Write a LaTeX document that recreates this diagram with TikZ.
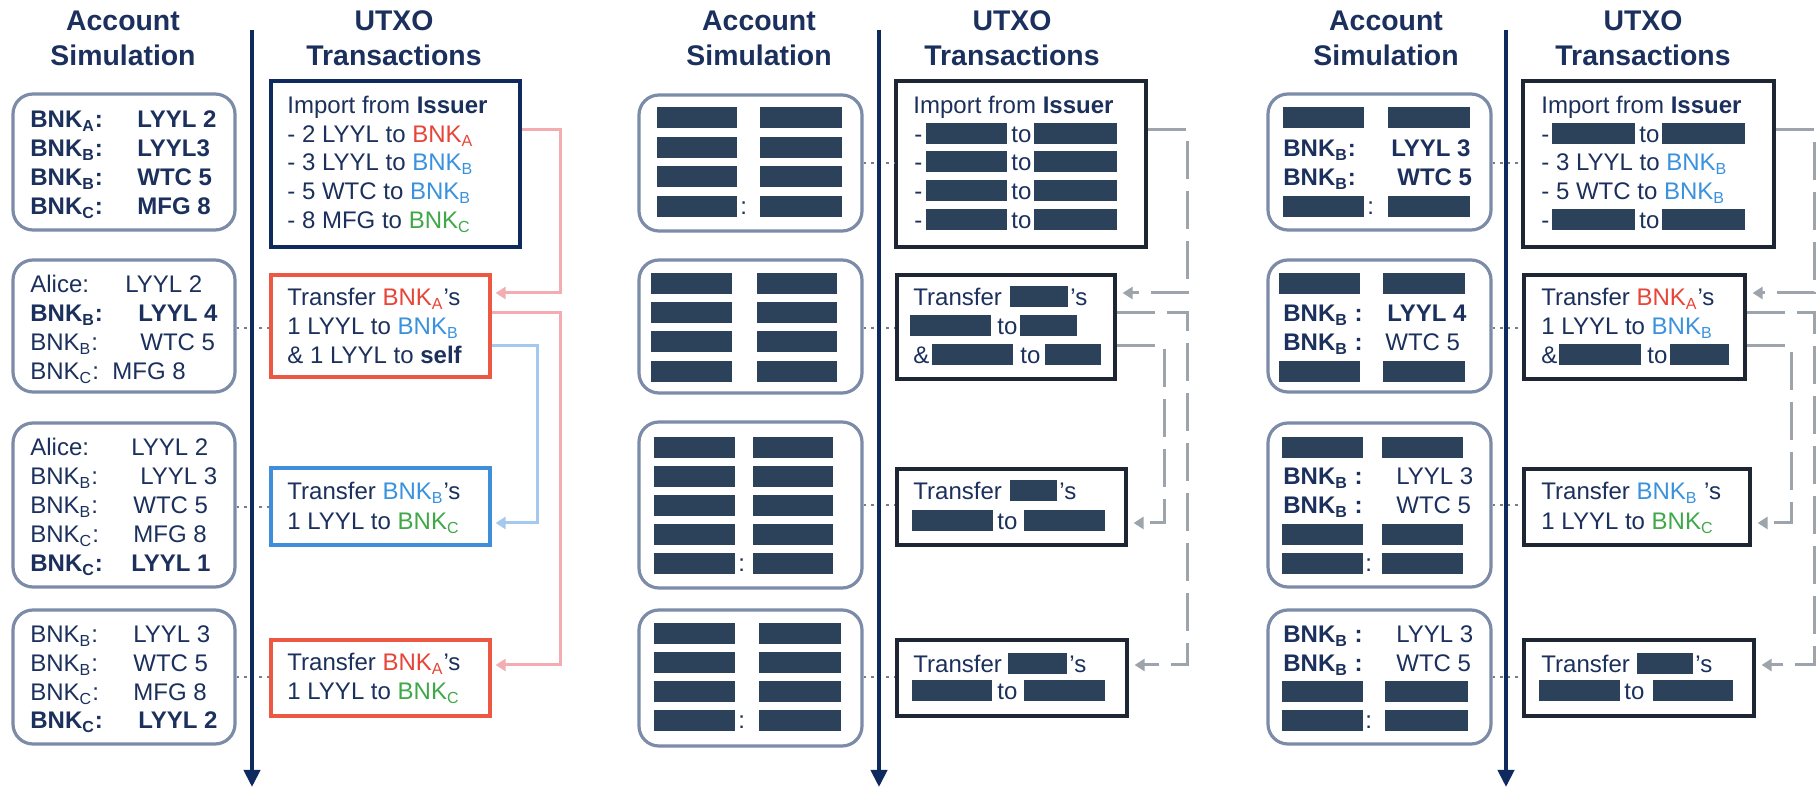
\documentclass[tikz,border=0pt]{standalone}
\usepackage{fontspec}
\setmainfont{Liberation Sans}
\usetikzlibrary{fit,arrows.meta}

\definecolor{ink}{RGB}{27,48,92}
\definecolor{axis}{RGB}{14,42,94}
\definecolor{roundedge}{RGB}{124,139,168}
\definecolor{bnkred}{RGB}{232,68,56}
\definecolor{bnkblue}{RGB}{58,146,222}
\definecolor{bnkgreen}{RGB}{64,168,72}
\definecolor{edgered}{RGB}{236,88,66}
\definecolor{edgeblue}{RGB}{62,142,218}
\definecolor{edgedark}{RGB}{30,38,52}
\definecolor{flowpink}{RGB}{243,172,176}
\definecolor{flowblue}{RGB}{164,201,238}
\definecolor{flowgray}{RGB}{158,164,172}
\definecolor{dotgray}{RGB}{115,125,140}
\definecolor{hidebar}{RGB}{44,66,90}

\newcommand\bnk[1]{BNK\textsubscript{#1}}
\newcommand\redA{\textcolor{bnkred}{\bnk{A}}}
\newcommand\bluB{\textcolor{bnkblue}{\bnk{B}}}
\newcommand\grnC{\textcolor{bnkgreen}{\bnk{C}}}
\newcounter{lbl}
% one line of text: left x, row centre y, contents
\newcommand\tline[3]{\stepcounter{lbl}\node[txt] (lbl\arabic{lbl}) at (#1,{#2+8}) {#3};}
% a blacked-out field: left x, right x, row centre y
\newcommand\hide[3]{\fill[hidebar] (#1,{#3-10.5}) rectangle (#2,{#3+10.5});}

\tikzset{
  txt/.style={anchor=base west, inner sep=0pt, text=ink},
  hdr/.style={align=center, text=ink, font=\fontsize{14.2}{17.5}\selectfont\bfseries},
  acct/.style={draw=roundedge, line width=1.6pt, rounded corners=10pt, inner sep=0pt},
  utxo/.style={draw=#1, line width=1.6pt, inner sep=0pt},
  timeline/.style={draw=axis, line width=2pt, -{Triangle[length=8.5pt,width=8pt]}},
  link/.style={draw=dotgray, line width=1.1pt, dash pattern=on 1.2pt off 2.6pt},
  flow/.style={draw=#1, line width=1.5pt, -{Triangle[length=5pt,width=6pt]}, shorten >=2pt},
  ghost/.style={draw=flowgray, line width=1.5pt, dash pattern=on 19pt off 6pt,
    -{Triangle[length=5pt,width=6pt]}, shorten >=3pt},
}

\begin{document}
\begin{tikzpicture}[x=0.5pt, y=-0.5pt, font=\fontsize{12}{14}\selectfont]
\fill[white] (0,0) rectangle (1816,790);
\useasboundingbox (0,0) rectangle (1816,790);

% ================= first panel: real values =================
\node[hdr] (h1l) at (123,38) {Account\\Simulation};
\node[hdr] (h1r) at (394,38) {UTXO\\Transactions};
\coordinate (ax1top) at (252,30);
\coordinate (ax1end) at (252,787);

\node[acct, fit={(13,94) (235,230)}] (p1s1) {};
\node[acct, fit={(13,260) (235,392)}] (p1s2) {};
\node[acct, fit={(13,423) (235,587)}] (p1s3) {};
\node[acct, fit={(13,610) (235,744)}] (p1s4) {};

\node[utxo=axis, fit={(271,81) (520,247)}] (p1u1) {};
\node[utxo=edgered, fit={(271,275) (490,377)}] (p1u2) {};
\node[utxo=edgeblue, fit={(271,468) (490,545)}] (p1u3) {};
\node[utxo=edgered, fit={(271,640) (490,716)}] (p1u4) {};

% balances
\tline{30}{120}{\textbf{\bnk{A}:}} \tline{137}{120}{\textbf{LYYL 2}}
\tline{30}{149}{\textbf{\bnk{B}:}} \tline{137}{149}{\textbf{LYYL3}}
\tline{30}{178}{\textbf{\bnk{B}:}} \tline{137}{178}{\textbf{WTC 5}}
\tline{30}{207}{\textbf{\bnk{C}:}} \tline{137}{207}{\textbf{MFG 8}}

\tline{30}{285}{Alice:} \tline{125}{285}{LYYL 2}
\tline{30}{314}{\textbf{\bnk{B}:}} \tline{138}{314}{\textbf{LYYL 4}}
\tline{30}{343}{\bnk{B}:} \tline{140}{343}{WTC 5}
\tline{30}{372}{\bnk{C}:} \tline{112}{372}{MFG 8}

\tline{30}{448}{Alice:} \tline{131}{448}{LYYL 2}
\tline{30}{477}{\bnk{B}:} \tline{140}{477}{LYYL 3}
\tline{30}{506}{\bnk{B}:} \tline{133}{506}{WTC 5}
\tline{30}{535}{\bnk{C}:} \tline{133}{535}{MFG 8}
\tline{30}{564}{\textbf{\bnk{C}:}} \tline{131}{564}{\textbf{LYYL 1}}

\tline{30}{635}{\bnk{B}:} \tline{133}{635}{LYYL 3}
\tline{30}{664}{\bnk{B}:} \tline{133}{664}{WTC 5}
\tline{30}{693}{\bnk{C}:} \tline{133}{693}{MFG 8}
\tline{30}{721}{\textbf{\bnk{C}:}} \tline{138}{721}{\textbf{LYYL 2}}

% transactions
\tline{287}{106}{Import from \textbf{Issuer}}
\tline{287}{135}{- 2 LYYL to \redA}
\tline{287}{163}{- 3 LYYL to \bluB}
\tline{287}{192}{- 5 WTC to \bluB}
\tline{287}{221}{- 8 MFG to \grnC}

\tline{287}{298}{Transfer \redA's}
\tline{287}{327}{1 LYYL to \bluB}
\tline{287}{356}{\& 1 LYYL to \textbf{self}}

\tline{287}{492}{Transfer \bluB's}
\tline{287}{522}{1 LYYL to \grnC}

\tline{287}{663}{Transfer \redA's}
\tline{287}{692}{1 LYYL to \grnC}

\draw[flow=flowpink] (p1u1.east |- 0,130) -- (560,130) -- (560,293) -- (p1u2.east |- 0,293);
\draw[flow=flowpink] (p1u2.east |- 0,313) -- (560,313) -- (560,665) -- (p1u4.east |- 0,665);
\draw[flow=flowblue] (p1u2.east |- 0,346) -- (537,346) -- (537,523) -- (p1u3.east |- 0,523);

\draw[link] (p1s2.east |- 0,328) -- (p1u2.west |- 0,328);
\draw[link] (p1s3.east |- 0,507) -- (p1u3.west |- 0,507);
\draw[link] (p1s4.east |- 0,677) -- (p1u4.west |- 0,677);
\draw[timeline] (ax1top) -- (ax1end);

% ================= second panel: everything hidden =================
\begin{scope}[xshift=313.5pt]
\node[hdr] (h2l) at (132,38) {Account\\Simulation};
\node[hdr] (h2r) at (385,38) {UTXO\\Transactions};
\coordinate (ax2top) at (252,30);
\coordinate (ax2end) at (252,787);

\node[acct, fit={(12,95) (235,231)}] (p2s1) {};
\node[acct, fit={(12,260) (235,393)}] (p2s2) {};
\node[acct, fit={(12,422) (235,588)}] (p2s3) {};
\node[acct, fit={(12,610) (235,746)}] (p2s4) {};

\node[utxo=edgedark, fit={(269,81) (519,247)}] (p2u1) {};
\node[utxo=edgedark, fit={(270,275) (488,379)}] (p2u2) {};
\node[utxo=edgedark, fit={(270,469) (499,545)}] (p2u3) {};
\node[utxo=edgedark, fit={(270,640) (500,716)}] (p2u4) {};

\hide{30}{110}{118} \hide{133}{215}{118}
\hide{30}{110}{148} \hide{133}{215}{148}
\hide{30}{110}{177} \hide{133}{215}{177}
\hide{30}{110}{207} \hide{133}{215}{207} \tline{113}{207}{:}

\hide{24}{105}{284} \hide{130}{210}{284}
\hide{24}{105}{313} \hide{130}{210}{313}
\hide{24}{105}{342} \hide{130}{210}{342}
\hide{24}{105}{372} \hide{130}{210}{372}

\hide{27}{108}{448} \hide{126}{206}{448}
\hide{27}{108}{477} \hide{126}{206}{477}
\hide{27}{108}{506} \hide{126}{206}{506}
\hide{27}{108}{535} \hide{126}{206}{535}
\hide{27}{108}{564} \hide{126}{206}{564} \tline{111}{564}{:}

\hide{27}{108}{634} \hide{132}{214}{634}
\hide{27}{108}{663} \hide{132}{214}{663}
\hide{27}{108}{692} \hide{132}{214}{692}
\hide{27}{108}{721} \hide{132}{214}{721} \tline{111}{721}{:}

\tline{286}{106}{Import from \textbf{Issuer}}
\tline{287}{135}{-} \hide{299}{380}{134} \tline{384}{135}{to} \hide{407}{490}{134}
\tline{287}{163}{-} \hide{299}{380}{162} \tline{384}{163}{to} \hide{407}{490}{162}
\tline{287}{192}{-} \hide{299}{380}{191} \tline{384}{192}{to} \hide{407}{490}{191}
\tline{287}{221}{-} \hide{299}{380}{220} \tline{384}{221}{to} \hide{407}{490}{220}

\tline{286}{298}{Transfer} \hide{383}{441}{297} \tline{443}{298}{'s}
\hide{283}{364}{326} \tline{370}{327}{to} \hide{393}{450}{326}
\tline{286}{356}{\&} \hide{305}{386}{355} \tline{393}{356}{to} \hide{418}{474}{355}

\tline{286}{492}{Transfer} \hide{383}{430}{491} \tline{432}{492}{'s}
\hide{285}{366}{521} \tline{370}{522}{to} \hide{397}{478}{521}

\tline{286}{665}{Transfer} \hide{381}{440}{664} \tline{442}{665}{'s}
\hide{285}{365}{691} \tline{370}{692}{to} \hide{397}{478}{691}

\draw[ghost] (p2u1.east |- 0,130) -- (560,130) -- (560,293) -- (p2u2.east |- 0,293);
\draw[ghost] (p2u2.east |- 0,313) -- (560,313) -- (560,665) -- (p2u4.east |- 0,665);
\draw[ghost] (p2u2.east |- 0,346) -- (537,346) -- (537,523) -- (p2u3.east |- 0,523);

\draw[link] (p2s1.east |- 0,163) -- (p2u1.west |- 0,163);
\draw[link] (p2s2.east |- 0,328) -- (p2u2.west |- 0,328);
\draw[link] (p2s3.east |- 0,505) -- (p2u3.west |- 0,505);
\draw[link] (p2s4.east |- 0,677) -- (p2u4.west |- 0,677);
\draw[timeline] (ax2top) -- (ax2end);
\end{scope}

% ================= third panel: partly hidden =================
\begin{scope}[xshift=627pt]
\node[hdr] (h3l) at (132,38) {Account\\Simulation};
\node[hdr] (h3r) at (389,38) {UTXO\\Transactions};
\coordinate (ax3top) at (252,30);
\coordinate (ax3end) at (252,787);

\node[acct, fit={(14,94) (237,230)}] (p3s1) {};
\node[acct, fit={(14,260) (237,392)}] (p3s2) {};
\node[acct, fit={(14,423) (237,587)}] (p3s3) {};
\node[acct, fit={(14,610) (237,744)}] (p3s4) {};

\node[utxo=edgedark, fit={(269,81) (520,247)}] (p3u1) {};
\node[utxo=edgedark, fit={(270,275) (491,379)}] (p3u2) {};
\node[utxo=edgedark, fit={(270,469) (496,545)}] (p3u3) {};
\node[utxo=edgedark, fit={(270,640) (500,716)}] (p3u4) {};

\hide{29}{110}{118} \hide{134}{216}{118}
\tline{29}{149}{\textbf{\bnk{B}:}} \tline{137}{149}{\textbf{LYYL 3}}
\tline{29}{178}{\textbf{\bnk{B}:}} \tline{143}{178}{\textbf{WTC 5}}
\hide{29}{110}{207} \hide{134}{216}{207} \tline{113}{207}{:}

\hide{25}{106}{284} \hide{129}{211}{284}
\tline{29}{314}{\textbf{\bnk{B} :}} \tline{133}{314}{\textbf{LYYL 4}}
\tline{29}{343}{\textbf{\bnk{B} :}} \tline{131}{343}{WTC 5}
\hide{25}{106}{372} \hide{129}{211}{372}

\hide{28}{109}{448} \hide{128}{209}{448}
\tline{29}{477}{\textbf{\bnk{B} :}} \tline{142}{477}{LYYL 3}
\tline{29}{506}{\textbf{\bnk{B} :}} \tline{142}{506}{WTC 5}
\hide{28}{109}{535} \hide{128}{209}{535}
\hide{28}{109}{564} \hide{128}{209}{564} \tline{111}{564}{:}

\tline{29}{635}{\textbf{\bnk{B} :}} \tline{142}{635}{LYYL 3}
\tline{29}{664}{\textbf{\bnk{B} :}} \tline{142}{664}{WTC 5}
\hide{28}{109}{692} \hide{131}{214}{692}
\hide{28}{109}{721} \hide{131}{214}{721} \tline{111}{721}{:}

\tline{287}{106}{Import from \textbf{Issuer}}
\tline{287}{135}{-} \hide{298}{381}{134} \tline{385}{135}{to} \hide{408}{491}{134}
\tline{287}{163}{- 3 LYYL to \bluB}
\tline{287}{192}{- 5 WTC to \bluB}
\tline{287}{221}{-} \hide{298}{381}{220} \tline{385}{221}{to} \hide{408}{491}{220}

\tline{287}{298}{Transfer \redA's}
\tline{287}{327}{1 LYYL to \bluB}
\tline{287}{356}{\&} \hide{305}{387}{355} \tline{393}{356}{to} \hide{416}{475}{355}

\tline{287}{492}{Transfer \bluB\ 's}
\tline{287}{522}{1 LYYL to \grnC}

\tline{287}{665}{Transfer} \hide{383}{439}{664} \tline{441}{665}{'s}
\hide{285}{366}{691} \tline{370}{692}{to} \hide{399}{479}{691}

\draw[ghost] (p3u1.east |- 0,130) -- (560,130) -- (560,293) -- (p3u2.east |- 0,293);
\draw[ghost] (p3u2.east |- 0,313) -- (560,313) -- (560,665) -- (p3u4.east |- 0,665);
\draw[ghost] (p3u2.east |- 0,346) -- (537,346) -- (537,523) -- (p3u3.east |- 0,523);

\draw[link] (p3s1.east |- 0,163) -- (p3u1.west |- 0,163);
\draw[link] (p3s2.east |- 0,328) -- (p3u2.west |- 0,328);
\draw[link] (p3s3.east |- 0,505) -- (p3u3.west |- 0,505);
\draw[link] (p3s4.east |- 0,677) -- (p3u4.west |- 0,677);
\draw[timeline] (ax3top) -- (ax3end);
\end{scope}
\end{tikzpicture}
\end{document}
